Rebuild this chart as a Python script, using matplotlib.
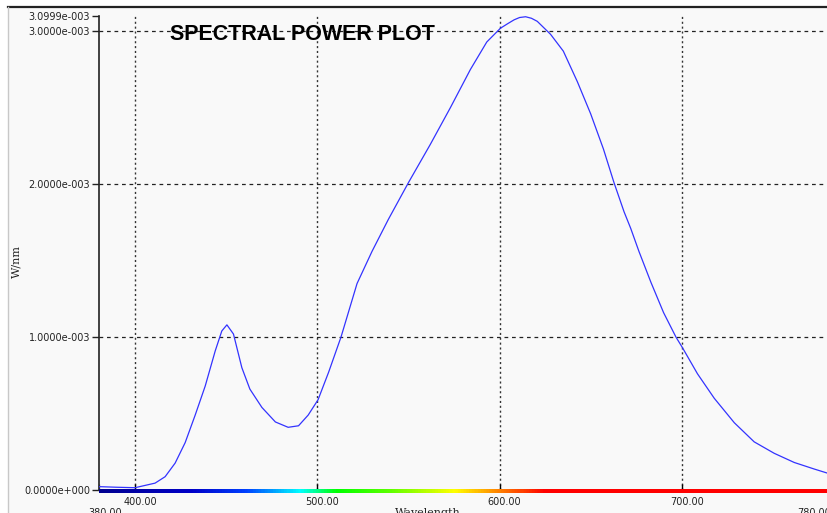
import matplotlib
matplotlib.use("Agg")
import matplotlib.pyplot as plt
import matplotlib.transforms as mtransforms
import numpy as np
from matplotlib.colors import LinearSegmentedColormap
from matplotlib.lines import Line2D
from matplotlib.patches import Rectangle

# spectral power reading, W/nm (x1e-3)
WAVELENGTH = [380, 390, 400, 411, 416.5, 422, 427.5, 433, 438.5, 444, 447.6, 450.4,
              454, 458.6, 463, 469.6, 477, 484, 489.7, 495, 500.4, 506.2, 513,
              521.8, 530, 539, 550, 562, 573, 584, 593, 600.5, 604.5, 608, 611, 614.3,
              617.5, 620.7, 628, 635, 642.7, 650, 657, 662.8, 668.3, 672, 676.5, 683,
              690, 696.8, 700.4, 708.6, 717.8, 728.8, 739.7, 750.7, 761.7, 772.7, 780]
POWER_E3 = [0.022, 0.018, 0.015, 0.045, 0.087, 0.176, 0.31, 0.49, 0.68, 0.91, 1.04, 1.08,
            1.02, 0.80, 0.66, 0.54, 0.445, 0.41, 0.42, 0.49, 0.59, 0.77, 1.00,
            1.35, 1.56, 1.77, 2.01, 2.26, 2.50, 2.75, 2.93, 3.02, 3.05, 3.075, 3.09, 3.095,
            3.085, 3.065, 2.98, 2.87, 2.67, 2.46, 2.23, 2.01, 1.82, 1.71, 1.56, 1.36,
            1.16, 1.00, 0.93, 0.76, 0.60, 0.44, 0.315, 0.24, 0.18, 0.137, 0.11]

X_MAJOR = [400, 500, 600, 700]
X_EDGE = [380, 780]
X_EDGE_LABELS = ["380.00", "780.00"]
Y_MAJOR = [1.0e-3, 2.0e-3, 3.0e-3]
Y_EDGE = [0.0, 3.0999e-3]
Y_MAJOR_LABELS = ["1.0000e-003", "2.0000e-003", "3.0000e-003"]
Y_EDGE_LABELS = ["0.0000e+000", "3.0999e-003"]

# colour stops for the spectrum strip under the axis
SPEC_WL = [380, 430, 460, 490, 510, 540, 575, 600, 625, 780]
SPEC_COL = ["#000090", "#0000c8", "#0040ff", "#00ffff", "#00ff00", "#60ff00",
            "#ffff00", "#ff8000", "#ff0000", "#ff0000"]

BG = "#f9f9f9"


def shift(fig, label, dx_px):
    label.set_transform(label.get_transform() +
                        mtransforms.ScaledTranslation(dx_px / 100, 0, fig.dpi_scale_trans))


def main():
    fig = plt.figure(figsize=(8.28, 5.13), dpi=100)
    fig.patch.set_facecolor("white")

    # panel background + frame lines
    fig.patches.append(Rectangle((8 / 828, 0), 1, (513 - 8) / 513,
                                 transform=fig.transFigure, facecolor=BG,
                                 edgecolor="none", zorder=-5))
    fig.lines.append(Line2D([8 / 828, 1], [(513 - 7) / 513] * 2,
                            transform=fig.transFigure, color="#222222", lw=1.6))
    fig.lines.append(Line2D([8 / 828] * 2, [0, (513 - 7) / 513],
                            transform=fig.transFigure, color="#c8c8c8", lw=1.0))

    ax = fig.add_axes([98.6 / 828, 23 / 513, (827.6 - 98.6) / 828, (490 - 16) / 513])
    ax.set_facecolor(BG)

    x = np.array(WAVELENGTH)
    y = np.array(POWER_E3) * 1e-3
    ax.plot(x, y, color="#3333ff", lw=0.9, zorder=4)

    # spectrum strip
    cmap = LinearSegmentedColormap.from_list(
        "spec", [((w - 380) / 400, c) for w, c in zip(SPEC_WL, SPEC_COL)])
    grad = np.linspace(0, 1, 800).reshape(1, -1)
    ax.imshow(grad, cmap=cmap, aspect="auto", extent=(380, 780, -0.022e-3, 0.004e-3),
              clip_on=False, zorder=5, interpolation="bilinear")

    ax.set_xlim(380, 780)
    ax.set_ylim(0, 3.0999e-3)

    ax.set_xticks(X_MAJOR)
    ax.set_xticklabels([f"{v:.2f}" for v in X_MAJOR])
    ax.set_xticks(X_EDGE, minor=True)
    ax.set_xticklabels(X_EDGE_LABELS, minor=True)
    ax.set_yticks(Y_MAJOR)
    ax.set_yticklabels(Y_MAJOR_LABELS)
    ax.set_yticks(Y_EDGE, minor=True)
    ax.set_yticklabels(Y_EDGE_LABELS, minor=True)

    ax.tick_params(axis="y", which="both", direction="out", length=5, width=1,
                   pad=1, labelsize=7, labelcolor="#222222", color="#222222")
    ax.tick_params(axis="x", which="major", direction="in", length=4, width=1,
                   pad=5, labelsize=7, labelcolor="#222222")
    ax.tick_params(axis="x", which="minor", direction="in", length=4, width=1,
                   pad=13, labelsize=7, labelcolor="#222222", color="#888888")

    for lab in ax.get_xticklabels():
        shift(fig, lab, 5)
    edge_labs = ax.get_xticklabels(minor=True)
    shift(fig, edge_labs[0], 7)
    shift(fig, edge_labs[1], -14)

    ax.grid(axis="x", which="major", linestyle=(0, (1.5, 2)), color="#333333", lw=1.0)
    ax.grid(axis="y", which="major", linestyle=(0, (3, 3)), color="#222222", lw=0.9)
    ax.set_axisbelow(True)

    for side in ["top", "right"]:
        ax.spines[side].set_visible(False)
    ax.spines["left"].set_color("#222222")
    ax.spines["left"].set_linewidth(1.2)
    ax.spines["bottom"].set_color("#999999")

    fig.text(170 / 828, (513 - 35) / 513, "SPECTRAL POWER PLOT", fontsize=15.5,
             fontweight="bold", family="Liberation Sans", va="center", ha="left",
             color="black", zorder=10)
    fig.text(16 / 828, (513 - 262) / 513, "W/nm", rotation=90, fontsize=8,
             family="DejaVu Serif", va="center", ha="center", color="#222222")
    fig.text(428 / 828, (513 - 508) / 513, "Wavelength", fontsize=8,
             family="DejaVu Serif", va="top", ha="center", color="#222222")

    fig.savefig("out.png", dpi=100, facecolor=fig.get_facecolor())


if __name__ == "__main__":
    main()
